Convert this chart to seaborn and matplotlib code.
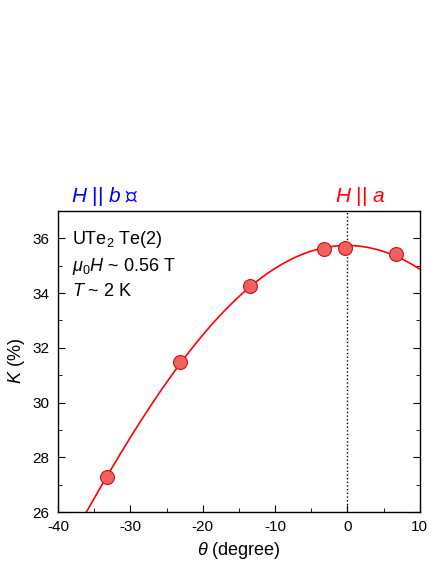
import numpy as np
import matplotlib
matplotlib.use("Agg")
import matplotlib.pyplot as plt
import seaborn as sns
from matplotlib.ticker import MultipleLocator

theta = [-33.2, -23.1, -13.5, -3.3, -0.3, 6.7]
knight = [27.28, 31.5, 34.25, 35.61, 35.65, 35.42]

sns.set_style("ticks")
plt.rcParams['font.family'] = ['Liberation Sans', 'DejaVu Sans']
plt.rcParams['mathtext.fontset'] = 'custom'
plt.rcParams['mathtext.it'] = 'Liberation Sans:italic'
plt.rcParams['mathtext.rm'] = 'Liberation Sans'
plt.rcParams['axes.unicode_minus'] = False
for k in ['text.color', 'axes.labelcolor', 'xtick.color', 'ytick.color', 'axes.edgecolor']:
    plt.rcParams[k] = 'black'

# fit K = a + b cos(2t) + c sin(2t)
t = np.radians(theta)
A = np.column_stack([np.ones_like(t), np.cos(2 * t), np.sin(2 * t)])
coef, *_ = np.linalg.lstsq(A, np.array(knight), rcond=None)
tf = np.linspace(-40, 10, 300)
rf = np.radians(tf)
kf = coef[0] + coef[1] * np.cos(2 * rf) + coef[2] * np.sin(2 * rf)

fig = plt.figure(figsize=(4.36, 5.64), dpi=100)
ax = fig.add_axes([0.133, 0.092, 0.830, 0.534])
sns.lineplot(x=tf, y=kf, color='red', lw=1.2, ax=ax)
sns.scatterplot(x=theta, y=knight, s=100, color='#f26060', edgecolor='#d01010', linewidth=0.8, zorder=3, ax=ax)
ax.axvline(0, color='black', ls=':', lw=1)

ax.set_xlim(-40, 10)
ax.set_ylim(26, 37)
ax.xaxis.set_major_locator(MultipleLocator(10))
ax.xaxis.set_minor_locator(MultipleLocator(5))
ax.yaxis.set_major_locator(MultipleLocator(2))
ax.yaxis.set_minor_locator(MultipleLocator(1))
ax.tick_params(which='both', direction='in', right=True, labelsize=11, pad=6)
ax.tick_params(which='major', length=5)
ax.tick_params(which='minor', length=3)
for s in ax.spines.values():
    s.set_linewidth(1)
ax.set_xlabel(r'$\it{\theta}$ (degree)', fontsize=13, labelpad=4)
ax.set_ylabel(r'$\it{K}$ (%)', fontsize=13)

ax.text(0.04, 0.904, r'UTe$_2$ Te(2)', transform=ax.transAxes, fontsize=13, va='center')
ax.text(0.04, 0.817, r'$\mu_0$$\it{H}$ ~ 0.56 T', transform=ax.transAxes, fontsize=13, va='center')
ax.text(0.04, 0.731, r'$\it{T}$ ~ 2 K', transform=ax.transAxes, fontsize=13, va='center')
fig.text(0.24, 0.652, r'$\it{H}$ || $\it{b}$ ⟵', color='blue', fontsize=15, ha='center', va='center')
fig.text(0.826, 0.652, r'$\it{H}$ || $\it{a}$', color='red', fontsize=15, ha='center', va='center')

fig.savefig('out.png', dpi=100)
